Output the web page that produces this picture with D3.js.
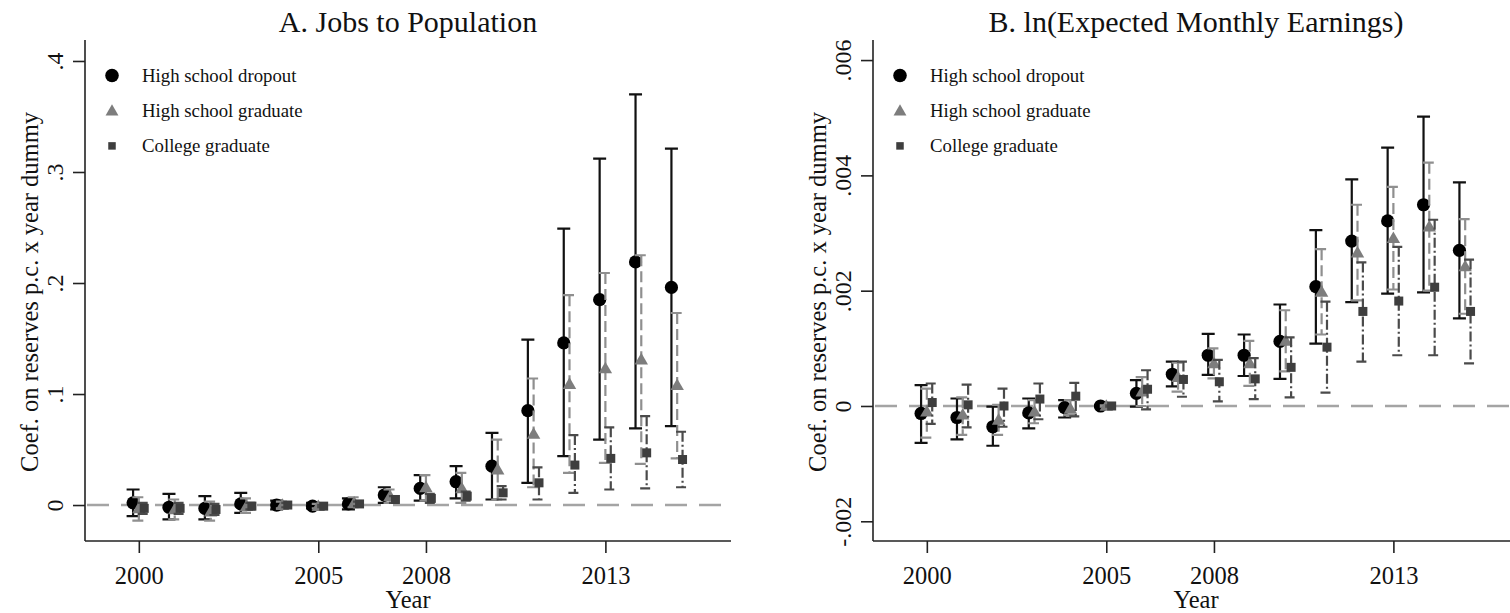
<!DOCTYPE html>
<html>
<head>
<meta charset="utf-8">
<script src="https://cdnjs.cloudflare.com/ajax/libs/d3/7.8.5/d3.min.js"></script>
<style>
  html, body { margin: 0; padding: 0; background: #fff; }
  svg { display: block; }
  text { font-family: "Liberation Serif", "DejaVu Serif", serif; fill: #111; }
</style>
</head>
<body>
<svg id="chart" width="1510" height="613"></svg>
<script>
const years = [2000, 2001, 2002, 2003, 2004, 2005, 2006, 2007, 2008, 2009, 2010, 2011, 2012, 2013, 2014, 2015];
const xTicks = [2000, 2005, 2008, 2013];
const seriesNames = ['High school dropout', 'High school graduate', 'College graduate'];

// Panel A: jobs to population
const jobsDropout = [0.002, -0.002, -0.003, 0.001, 0.000, -0.001, 0.001, 0.009, 0.015, 0.021, 0.035, 0.085, 0.146, 0.185, 0.219, 0.196];
const jobsDropoutLo = [-0.010, -0.013, -0.013, -0.007, -0.004, -0.003, -0.004, 0.002, 0.004, 0.006, 0.005, 0.020, 0.044, 0.059, 0.069, 0.071];
const jobsDropoutHi = [0.014, 0.010, 0.008, 0.011, 0.004, 0.002, 0.006, 0.016, 0.027, 0.035, 0.065, 0.149, 0.249, 0.312, 0.370, 0.321];
const jobsGrad = [-0.003, -0.004, -0.006, -0.001, 0.000, -0.001, 0.002, 0.008, 0.016, 0.015, 0.032, 0.064, 0.109, 0.123, 0.131, 0.108];
const jobsGradLo = [-0.014, -0.013, -0.014, -0.007, -0.003, -0.003, -0.002, 0.002, 0.004, 0.002, 0.005, 0.016, 0.029, 0.038, 0.037, 0.042];
const jobsGradHi = [0.007, 0.005, 0.003, 0.006, 0.003, 0.001, 0.007, 0.014, 0.027, 0.029, 0.059, 0.114, 0.189, 0.209, 0.225, 0.173];
const jobsColl = [-0.003, -0.003, -0.004, -0.001, 0.000, -0.001, 0.001, 0.005, 0.006, 0.008, 0.011, 0.020, 0.036, 0.042, 0.047, 0.041];
const jobsCollLo = [-0.008, -0.008, -0.009, -0.004, -0.002, -0.002, -0.001, 0.002, 0.002, 0.004, 0.005, 0.005, 0.011, 0.014, 0.015, 0.016];
const jobsCollHi = [0.002, 0.002, 0.001, 0.002, 0.002, 0.000, 0.003, 0.008, 0.010, 0.012, 0.017, 0.034, 0.063, 0.070, 0.080, 0.066];
const jobsTicks = [0, 0.1, 0.2, 0.3, 0.4];
const jobsTickLabels = ['0', '.1', '.2', '.3', '.4'];

// Panel B: ln(expected monthly earnings)
const earnDropout = [-0.00013, -0.0002, -0.00036, -0.00012, -0.00003, 0, 0.00022, 0.00055, 0.00088, 0.00088, 0.00112, 0.00207, 0.00286, 0.00321, 0.00349, 0.0027];
const earnDropoutLo = [-0.00064, -0.00058, -0.00069, -0.00039, -0.0002, -0.00002, -0.00001, 0.00034, 0.00054, 0.00052, 0.00047, 0.00108, 0.0018, 0.00195, 0.00197, 0.00152];
const earnDropoutHi = [0.00036, 0.00013, -0.00001, 0.00013, 0.0001, 0.00002, 0.00045, 0.00077, 0.00125, 0.00124, 0.00176, 0.00305, 0.00393, 0.00448, 0.00502, 0.00388];
const earnGrad = [-0.0001, -0.00015, -0.00024, -0.0001, -0.00005, 0, 0.00025, 0.0005, 0.00074, 0.00074, 0.00113, 0.00198, 0.00266, 0.00291, 0.00311, 0.00242];
const earnGradLo = [-0.00055, -0.0005, -0.0005, -0.0003, -0.00016, -0.00001, 0.0, 0.00025, 0.00048, 0.00035, 0.0006, 0.00124, 0.00183, 0.00202, 0.002, 0.0016];
const earnGradHi = [0.0003, 0.00015, 0.00002, 0.0001, 0.0001, 0.00001, 0.0005, 0.00075, 0.001, 0.00113, 0.00166, 0.00272, 0.00349, 0.0038, 0.00422, 0.00324];
const earnColl = [0.00006, 0.00002, 0.0, 0.00012, 0.00017, 0, 0.00029, 0.00046, 0.00042, 0.00047, 0.00067, 0.00102, 0.00164, 0.00182, 0.00206, 0.00164];
const earnCollLo = [-0.00031, -0.00037, -0.00036, -0.00023, -0.00018, -0.00001, -0.00006, 0.00016, 0.00008, 0.00012, 0.00015, 0.00023, 0.00077, 0.00088, 0.00088, 0.00074];
const earnCollHi = [0.00039, 0.00037, 0.0003, 0.00039, 0.0004, 0.00001, 0.00062, 0.00077, 0.0008, 0.00083, 0.00119, 0.00181, 0.00249, 0.00276, 0.00323, 0.00254];
const earnTicks = [-0.002, 0, 0.002, 0.004, 0.006];
const earnTickLabels = ['-.002', '0', '.002', '.004', '.006'];

const svg = d3.select('#chart');
svg.append('rect').attr('width', 1510).attr('height', 613).attr('fill', '#fff');

// marker + error bar look per series
const styles = [
    {marker: 'circle', fill: '#000', stroke: '#111', dash: null, width: 2.2, offset: -0.16},
    {marker: 'triangle', fill: '#7d7d7d', stroke: '#8f8f8f', dash: '11,5', width: 2.2, offset: 0},
    {marker: 'square', fill: '#3e3e3e', stroke: '#4a4a4a', dash: '10,3,2,3', width: 2.2, offset: 0.15}
];

function drawMarker(g, type, x, y, fill, big) {
    if (type === 'circle') {
        g.append('circle').attr('cx', x).attr('cy', y).attr('r', big ? 6.8 : 6.6).attr('fill', fill);
    } else if (type === 'triangle') {
        g.append('path')
            .attr('d', d3.symbol().type(d3.symbolTriangle).size(big ? 72 : 78)())
            .attr('transform', `translate(${x},${y + 1})`)
            .attr('fill', fill);
    } else {
        const s = big ? 7.5 : 9;
        g.append('rect').attr('x', x - s / 2).attr('y', y - s / 2).attr('width', s).attr('height', s).attr('fill', fill);
    }
}

function drawPanel(cfg) {
    const x = d3.scaleLinear().domain([1998.5, 2016.5]).range([cfg.left, cfg.left + 646]);
    const y = d3.scaleLinear().domain(cfg.yDomain).range([541, 40]);
    const g = svg.append('g');

    // zero reference line
    g.append('line')
        .attr('x1', cfg.left + 2).attr('x2', cfg.left + 646)
        .attr('y1', y(0)).attr('y2', y(0))
        .attr('stroke', '#a4a4a4').attr('stroke-width', 2.6)
        .attr('stroke-dasharray', '22,12');

    // axes
    const xAxis = g.append('g')
        .attr('transform', 'translate(0,541)')
        .call(d3.axisBottom(x).tickValues(xTicks).tickFormat(d3.format('d')).tickSize(12).tickPadding(14));
    xAxis.selectAll('text').attr('font-size', 24.5).attr('fill', '#111');

    const yAxis = g.append('g')
        .attr('transform', `translate(${cfg.left},0)`)
        .call(d3.axisLeft(y).tickValues(cfg.ticks).tickFormat((d, i) => cfg.tickLabels[i]).tickSize(12));
    yAxis.selectAll('.tick text')
        .attr('x', null).attr('dy', null)
        .attr('transform', 'translate(-22,0) rotate(-90)')
        .attr('text-anchor', 'middle')
        .attr('font-size', 24).attr('fill', '#111');

    [xAxis, yAxis].forEach(a => {
        a.select('.domain').attr('stroke', '#222').attr('stroke-width', 1.6);
        a.selectAll('.tick line').attr('stroke', '#222').attr('stroke-width', 1.6);
    });
    yAxis.select('.domain').attr('d', 'M0,541V40');
    xAxis.select('.domain').attr('d', `M${cfg.left},0H${cfg.left + 646}`);

    // error bars and markers
    cfg.series.forEach((s, i) => {
        const st = styles[i];
        const bars = g.append('g');
        years.forEach((yr, j) => {
            const cx = x(yr + st.offset);
            const path = d3.path();
            path.moveTo(cx - 6.5, y(s.hi[j]));
            path.lineTo(cx + 6.5, y(s.hi[j]));
            path.moveTo(cx, y(s.hi[j]));
            path.lineTo(cx, y(s.lo[j]));
            path.moveTo(cx - 6.5, y(s.lo[j]));
            path.lineTo(cx + 6.5, y(s.lo[j]));
            bars.append('path')
                .attr('d', path.toString())
                .attr('fill', 'none')
                .attr('stroke', st.stroke)
                .attr('stroke-width', st.width)
                .attr('stroke-dasharray', st.dash);
        });
        years.forEach((yr, j) => {
            drawMarker(g, st.marker, x(yr + st.offset), y(s.coef[j]), st.fill, false);
        });
    });

    // legend
    seriesNames.forEach((name, i) => {
        const ly = 75.5 + i * 35.2;
        drawMarker(g, styles[i].marker, cfg.left + 27, ly, styles[i].fill, true);
        g.append('text')
            .attr('x', cfg.left + 57).attr('y', ly + 6)
            .attr('font-size', 18.8)
            .text(name);
    });

    // titles
    g.append('text')
        .attr('x', cfg.left + 323).attr('y', 32)
        .attr('text-anchor', 'middle')
        .attr('font-size', 30)
        .text(cfg.title);
    g.append('text')
        .attr('x', cfg.left + 323).attr('y', 608)
        .attr('text-anchor', 'middle')
        .attr('font-size', 24.5)
        .text('Year');
    g.append('text')
        .attr('transform', `translate(${cfg.left - 47},292) rotate(-90)`)
        .attr('text-anchor', 'middle')
        .attr('font-size', 24.5)
        .text('Coef. on reserves p.c. x year dummy');
}

drawPanel({
    left: 85,
    yDomain: [-0.0324, 0.4189],
    ticks: jobsTicks,
    tickLabels: jobsTickLabels,
    title: 'A. Jobs to Population',
    series: [
        {coef: jobsDropout, lo: jobsDropoutLo, hi: jobsDropoutHi},
        {coef: jobsGrad, lo: jobsGradLo, hi: jobsGradHi},
        {coef: jobsColl, lo: jobsCollLo, hi: jobsCollHi}
    ]
});

drawPanel({
    left: 873,
    yDomain: [-0.002342, 0.006348],
    ticks: earnTicks,
    tickLabels: earnTickLabels,
    title: 'B. ln(Expected Monthly Earnings)',
    series: [
        {coef: earnDropout, lo: earnDropoutLo, hi: earnDropoutHi},
        {coef: earnGrad, lo: earnGradLo, hi: earnGradHi},
        {coef: earnColl, lo: earnCollLo, hi: earnCollHi}
    ]
});
</script>
</body>
</html>
